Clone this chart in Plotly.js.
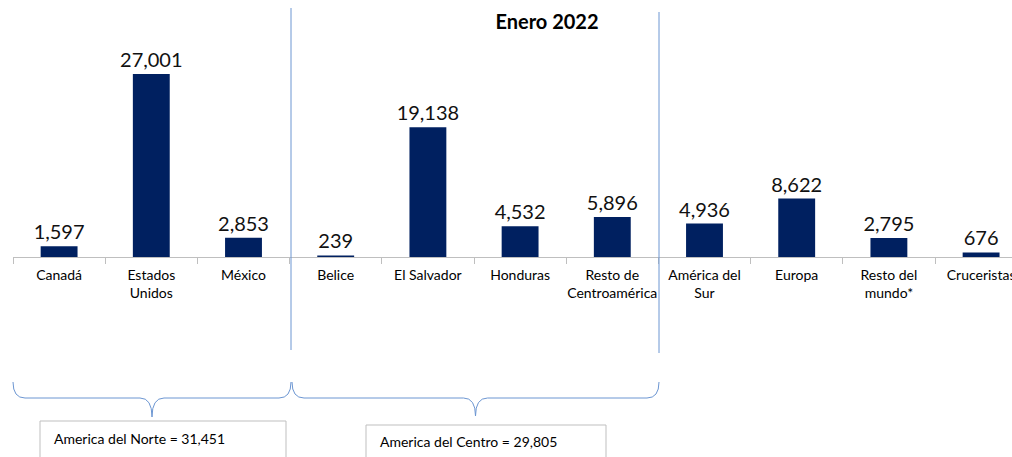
<!DOCTYPE html>
<html>
<head>
<meta charset="utf-8">
<script src="https://cdn.plot.ly/plotly-3.0.1.min.js"></script>
<style>html,body{margin:0;padding:0;background:#fff;}#chart{width:1012px;height:457px;}</style>
</head>
<body>
<div id="chart"></div>
<script>
const categories = ["Canadá", "Estados<br>Unidos", "México", "Belice", "El Salvador", "Honduras",
  "Resto de<br>Centroamérica", "América del<br>Sur", "Europa", "Resto del<br>mundo*", "Cruceristas"];
const values = [1597, 27001, 2853, 239, 19138, 4532, 5896, 4936, 8622, 2795, 676];
const northIdx = [0, 1, 2];
const centerIdx = [3, 4, 5, 6];
const titleText = "<b>Enero 2022</b>";

const northTotal = northIdx.reduce((s, i) => s + values[i], 0);
const centerTotal = centerIdx.reduce((s, i) => s + values[i], 0);
const fmt = n => n.toLocaleString('en-US');

// pixel helpers (plot area: x 13..1012, y 40..257)
const L = 13, R = 1012, T = 40, B = 257;
const px = x => (x - L) / (R - L);
const py = y => (B - y) / (B - T);

function brace(x0, x1, yEnd, yLine, yTip) {
  const xm = (x0 + x1) / 2, c = 12;
  const p = (x, y) => px(x) + ',' + py(y);
  return 'M' + p(x0, yEnd) + ' Q' + p(x0, yLine) + ' ' + p(x0 + c, yLine) +
    ' L' + p(xm - c, yLine) + ' Q' + p(xm, yLine) + ' ' + p(xm, yTip) +
    ' Q' + p(xm, yLine) + ' ' + p(xm + c, yLine) +
    ' L' + p(x1 - c, yLine) + ' Q' + p(x1, yLine) + ' ' + p(x1, yEnd);
}

const blue = '#6C96D2';
const font = 'Lato, "Open Sans", sans-serif';

const trace = {
  type: 'bar',
  x: categories,
  y: values,
  marker: {color: '#002060'},
  texttemplate: '%{y:,}',
  textposition: 'outside',
  constraintext: 'none',
  textfont: {family: font, size: 20, color: '#111'},
  cliponaxis: false,
  hoverinfo: 'skip'
};

const layout = {
  width: 1012, height: 457,
  margin: {l: L, r: 0, t: T, b: 457 - B, pad: 0},
  paper_bgcolor: '#fff', plot_bgcolor: '#fff',
  font: {family: font, color: '#000'},
  showlegend: false,
  bargap: 0.6,
  title: {text: titleText, font: {family: font, size: 20, color: '#000'},
    xref: 'container', yref: 'container', x: 547 / 1012, xanchor: 'center', y: 1 - 22 / 457, yanchor: 'middle'},
  xaxis: {
    type: 'category',
    range: [-0.5, -0.5 + (R - L) / 92.2],
    showline: true, linecolor: '#BFBFBF', linewidth: 1,
    ticks: 'outside', tickson: 'boundaries', ticklen: 6, tickcolor: '#BFBFBF',
    tickangle: 0, ticklabelstandoff: 5,
    tickfont: {family: font, size: 14, color: '#000'},
    showgrid: false, zeroline: false, fixedrange: true, automargin: false
  },
  yaxis: {
    range: [0, 27001 * (B - T) / 183],
    visible: false, showgrid: false, zeroline: false, fixedrange: true
  },
  shapes: [
    {type: 'line', xref: 'paper', yref: 'paper', x0: px(291), x1: px(291), y0: py(8), y1: py(350), line: {color: blue, width: 1}},
    {type: 'line', xref: 'paper', yref: 'paper', x0: px(659), x1: px(659), y0: py(12), y1: py(353), line: {color: blue, width: 1}},
    {type: 'path', xref: 'paper', yref: 'paper', path: brace(13, 291, 382, 398, 417), line: {color: blue, width: 1}},
    {type: 'path', xref: 'paper', yref: 'paper', path: brace(292, 659, 382, 398, 416), line: {color: blue, width: 1}},
    {type: 'rect', xref: 'paper', yref: 'paper', x0: px(40), x1: px(286), y0: py(421), y1: py(475), line: {color: '#BFBFBF', width: 1}, fillcolor: '#fff'},
    {type: 'rect', xref: 'paper', yref: 'paper', x0: px(366), x1: px(606), y0: py(425), y1: py(475), line: {color: '#BFBFBF', width: 1}, fillcolor: '#fff'}
  ],
  annotations: [
    {xref: 'paper', yref: 'paper', x: px(52), y: py(438), xanchor: 'left', yanchor: 'middle', showarrow: false,
      text: 'America del Norte = ' + fmt(northTotal), font: {family: font, size: 14, color: '#000'}},
    {xref: 'paper', yref: 'paper', x: px(378), y: py(441), xanchor: 'left', yanchor: 'middle', showarrow: false,
      text: 'America del Centro = ' + fmt(centerTotal), font: {family: font, size: 14, color: '#000'}}
  ]
};

Plotly.newPlot('chart', [trace], layout, {staticPlot: true, displayModeBar: false});
</script>
</body>
</html>
